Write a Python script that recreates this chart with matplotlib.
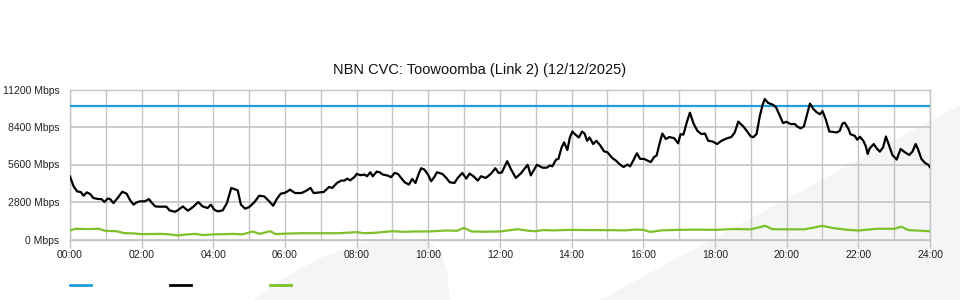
import matplotlib
matplotlib.use("Agg")
import matplotlib.pyplot as plt
from matplotlib.patches import Polygon
from matplotlib.lines import Line2D
import numpy as np

plt.rcParams['font.family'] = ['Liberation Sans', 'DejaVu Sans']

title = "NBN CVC: Toowoomba (Link 2) (12/12/2025)"
capacity_mbps = 10000
y_ticks = [0, 2800, 5600, 8400, 11200]
x_ticks = list(range(0, 25, 2))
x_labels = [f"{h:02d}:00" for h in x_ticks]

black_hours = [0.00, 0.10, 0.20, 0.30, 0.38, 0.47, 0.56, 0.65, 0.79, 0.88, 0.96, 1.05, 1.12, 1.21, 1.33,
               1.46, 1.58, 1.67, 1.77, 1.86, 1.95, 2.09, 2.20, 2.29, 2.38, 2.50, 2.69, 2.78, 2.93, 3.00,
               3.15, 3.29, 3.43, 3.58, 3.70, 3.84, 3.93, 4.03, 4.12, 4.26, 4.38, 4.50, 4.58, 4.68, 4.77,
               4.89, 5.00, 5.14, 5.28, 5.42, 5.56, 5.67, 5.77, 5.88, 5.98, 6.05, 6.14, 6.28, 6.46, 6.60,
               6.71, 6.80, 6.97, 7.08, 7.23, 7.32, 7.45, 7.57, 7.66, 7.73, 7.82, 7.94, 8.00, 8.10, 8.22,
               8.29, 8.38, 8.45, 8.56, 8.64, 8.73, 8.87, 8.96, 9.06, 9.15, 9.24, 9.34, 9.46, 9.55, 9.64,
               9.74, 9.80, 9.89, 9.99, 10.08, 10.18, 10.24, 10.39, 10.50, 10.60, 10.73, 10.82, 10.95,
               11.06, 11.15, 11.26, 11.38, 11.47, 11.61, 11.75, 11.87, 11.96, 12.05, 12.20, 12.30, 12.44,
               12.58, 12.77, 12.86, 13.03, 13.19, 13.30, 13.40, 13.46, 13.56, 13.63, 13.72, 13.79, 13.88,
               13.95, 14.02, 14.10, 14.20, 14.29, 14.36, 14.43, 14.50, 14.60, 14.69, 14.80, 14.90, 15.00,
               15.13, 15.23, 15.35, 15.45, 15.56, 15.63, 15.73, 15.82, 15.91, 16.02, 16.11, 16.21, 16.30,
               16.37, 16.45, 16.53, 16.63, 16.72, 16.86, 16.97, 17.04, 17.12, 17.21, 17.30, 17.40, 17.51,
               17.62, 17.72, 17.81, 17.93, 18.06, 18.18, 18.32, 18.46, 18.55, 18.65, 18.79, 18.88, 19.00,
               19.07, 19.16, 19.25, 19.33, 19.39, 19.48, 19.61, 19.70, 19.79, 19.90, 19.99, 20.11, 20.23,
               20.29, 20.39, 20.48, 20.57, 20.65, 20.74, 20.83, 20.93, 21.00, 21.09, 21.19, 21.28, 21.39,
               21.48, 21.56, 21.62, 21.72, 21.78, 21.90, 21.97, 22.04, 22.14, 22.21, 22.26, 22.32, 22.43,
               22.51, 22.60, 22.69, 22.77, 22.86, 22.95, 23.07, 23.18, 23.30, 23.42, 23.51, 23.60, 23.67,
               23.76, 23.86, 23.95, 24.00]
black_mbps = [4700, 3970, 3590, 3540, 3270, 3520, 3400, 3100, 3020, 3020, 2800, 3050, 3020, 2720, 3100,
              3570, 3420, 2970, 2600, 2770, 2850, 2850, 3020, 2720, 2470, 2450, 2450, 2170, 2070, 2170,
              2470, 2150, 2420, 2800, 2470, 2350, 2600, 2220, 2100, 2170, 2720, 3850, 3770, 3670, 2600,
              2300, 2420, 2770, 3270, 3220, 2850, 2520, 3020, 3420, 3470, 3560, 3720, 3470, 3470, 3650,
              3850, 3470, 3520, 3550, 3920, 3850, 4220, 4400, 4400, 4540, 4420, 4670, 4900, 4800, 4850,
              4720, 5020, 4720, 5070, 5020, 4850, 4770, 4650, 4970, 4900, 4600, 4270, 4100, 4520, 4220,
              4970, 5320, 5220, 4850, 4350, 4720, 5020, 4900, 4600, 4270, 4220, 4600, 4970,
              4550, 4920, 4720, 4400, 4720, 4600, 4920, 5320, 4970, 5000, 5850, 5280, 4600,
              4930, 5580, 4790, 5580, 5360, 5360, 5530, 5460, 5950, 6020, 6880, 7250, 6680,
              7620, 8060, 7840, 7620, 8060, 7910, 7370, 7620, 7130, 7370, 7010, 6590, 6510,
              6090, 5900, 5600, 5410, 5600, 5460, 5950, 6440, 6020, 6020, 5900, 5780, 6160,
              6270, 7130, 7910, 7500, 7650, 7570, 7180, 7870, 7830, 8730, 9470, 8660, 8110,
              7870, 7910, 7370, 7320, 7130, 7370, 7540, 7660, 7990, 8800, 8440, 8130, 7690,
              7640, 7880, 9210, 10070, 10490, 10200, 10070, 9890, 9350, 8690, 8790, 8620, 8620,
              8440, 8300, 8440, 9350, 10150, 9760, 9520, 9350, 9590, 8980, 8060, 8040, 7990,
              8110, 8670, 8720, 8280, 7860, 7740, 7450, 7670, 7370, 6950, 6390, 6810, 7130,
              6810, 6560, 6880, 7690, 7000, 6310, 5970, 6760, 6510, 6310, 6560, 7130, 6710,
              6020, 5720, 5580, 5400]

green_hours = [0.0, 0.15, 0.5, 0.8, 1.0, 1.3, 1.5, 1.8, 2.0, 2.5, 2.8, 3.0, 3.2, 3.5, 3.7, 4.0, 4.3,
               4.55, 4.8, 5.1, 5.3, 5.58, 5.75, 6.0, 6.5, 7.0, 7.5, 8.0, 8.2, 8.5, 9.0, 9.3, 9.6, 10.0,
               10.5, 10.8, 11.0, 11.2, 11.6, 12.0, 12.5, 12.8, 13.0, 13.2, 13.5, 14.0, 14.5, 15.0, 15.5,
               15.8, 16.0, 16.2, 16.5, 17.0, 17.5, 18.0, 18.5, 19.0, 19.4, 19.6, 20.0, 20.5, 21.0, 21.3,
               21.7, 22.0, 22.5, 23.0, 23.2, 23.4, 24.0]
green_mbps = [670, 800, 780, 800, 640, 620, 480, 450, 400, 420, 380, 300, 360, 420, 330, 380, 400,
              420, 380, 590, 420, 620, 400, 440, 470, 470, 470, 550, 470, 500, 620, 570, 600, 600,
              670, 650, 870, 600, 580, 600, 770, 650, 620, 700, 680, 720, 700, 700, 680,
              740, 720, 560, 680, 720, 740, 720, 780, 760, 1020, 770, 760, 760, 1020, 850,
              720, 670, 800, 800, 950, 700, 620]

BLUE = '#1e9fdc'
GREEN = '#7dc02a'
GRID = '#c4c4c4'

fig = plt.figure(figsize=(9.6, 3.0), dpi=100)
W, H = 960.0, 300.0

def fpt(x, y):
    return (x / W, 1 - y / H)

# watermark shapes
blade = [fpt(*p) for p in [(254, 300), (280, 280), (320, 258), (360, 244), (395, 238), (425, 240),
                           (440, 250), (447, 270), (450, 300)]]
band = [fpt(*p) for p in [(600, 300), (960, 105), (960, 300)]]
for pts in (blade, band):
    fig.patches.append(Polygon(pts, closed=True, transform=fig.transFigure,
                               facecolor='#f4f5f7', edgecolor='none', zorder=-10))

ax = fig.add_axes([70 / W, 1 - 239.5 / H, 860 / W, 150 / H])
ax.set_facecolor('none')

ax.plot(black_hours, black_mbps, color='black', lw=1.6, zorder=4)
ax.plot(green_hours, green_mbps, color=GREEN, lw=1.6, zorder=3)
ax.axhline(capacity_mbps, color=BLUE, lw=1.6, zorder=3)

ax.set_xlim(0, 24)
ax.set_ylim(0, 11200)
ax.set_xticks(x_ticks)
ax.set_xticklabels(x_labels)
ax.set_xticks(range(0, 25), minor=True)
ax.set_yticks(y_ticks)
ax.set_yticklabels([f"{v} Mbps" for v in y_ticks])

ax.grid(True, which='both', axis='x', color=GRID, lw=1.0)
ax.grid(True, which='major', axis='y', color=GRID, lw=1.2)
ax.tick_params(axis='x', which='major', length=6, color=GRID, width=1.0, labelsize=7.5, pad=1.5, labelcolor='#222222')
ax.tick_params(axis='x', which='minor', length=0)
ax.tick_params(axis='y', length=0, labelsize=7.5, pad=7.5, labelcolor='#222222')
for s in ax.spines.values():
    s.set_color(GRID)
    s.set_linewidth(1.0)

fig.text(480 / W, 1 - 70 / H, title, ha='center', va='center', fontsize=10.5, color='#111111')

# legend swatches
for x0, c in [(70, BLUE), (170, 'black'), (270, GREEN)]:
    fig.add_artist(Line2D([x0 / W, (x0 + 21) / W], [1 - 285 / H, 1 - 285 / H],
                          transform=fig.transFigure, color=c, lw=2.0))

fig.savefig('out.png', dpi=100)
